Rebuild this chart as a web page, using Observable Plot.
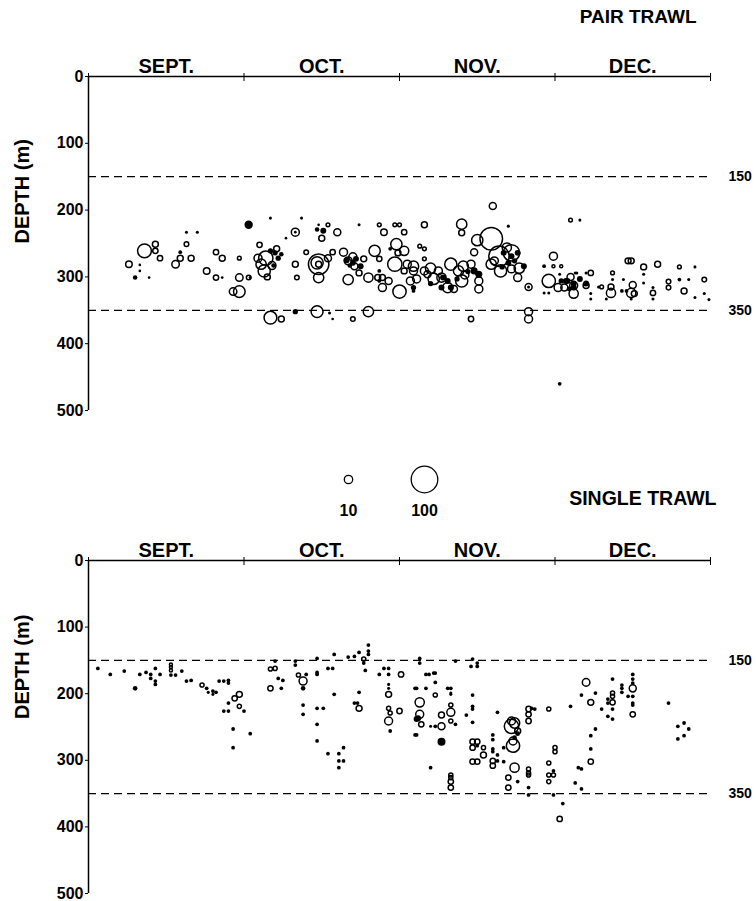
<!DOCTYPE html>
<html><head><meta charset="utf-8">
<script src="https://cdn.jsdelivr.net/npm/d3@7"></script>
<script src="https://cdn.jsdelivr.net/npm/@observablehq/plot@0.6"></script>
<style>
body{margin:0;background:#fff;}
#wrap{position:relative;width:756px;height:901px;background:#fff;overflow:hidden}
#wrap > svg{position:absolute;left:0}
</style></head><body><div id="wrap"></div>
<script>
// x = months since 1 September (0 = 1 Sept, 4 = 31 Dec); depth in m; n = catch (circle area)
const monthLabels = ["SEPT.", "OCT.", "NOV.", "DEC."];
const monthMid = [0.5, 1.5, 2.5, 3.5];
const monthEdges = [0, 1, 2, 3, 4];
const depthTicks = [0, 100, 200, 300, 400, 500];
const guideDepths = [150, 350];
const legendValues = [10, 100];
const legendLabels = ["10", "100"];
const yTitle = "DEPTH (m)";

// PAIR TRAWL — open circles [t, depth, n]
const pairOpen = [
  [0.26,281,6],[0.36,261,27],[0.43,251,5],[0.43,261,4],[0.46,272,4],[0.63,251,3],[0.59,272,5],[0.56,281,8],
  [0.66,272,5],[0.76,291,6],[0.82,263,4],[0.86,272,5],[0.82,301,4],[0.97,272,2],[0.97,301,8],[1.03,301,3],
  [0.97,322,19],[0.93,322,8],
  [1.33,233,9],[1.54,222,2],[1.60,233,7],[1.50,242,5],[1.87,222,2],[1.90,233,6],[1.97,222,2],[2.00,222,2],
  [2.03,233,4],[1.10,252,4],[1.14,272,29],[1.13,291,21],[1.09,272,9],[1.11,281,15],[1.33,281,5],[1.34,301,3],
  [1.40,263,3],[1.48,281,59],[1.47,279,21],[1.48,281,5],[1.48,301,15],[1.54,272,7],[1.57,263,4],[1.64,263,9],
  [1.67,276,9],[1.71,284,7],[1.67,304,15],[1.77,273,5],[1.74,294,5],[1.84,261,18],[1.80,301,12],[1.86,301,5],
  [1.89,301,5],[1.87,273,4],[1.98,251,18],[2.03,261,12],[1.97,281,29],[1.99,264,5],[1.89,316,9],[2.00,322,25],
  [1.93,306,7],[2.07,306,9],[2.05,281,9],[2.09,291,9],[2.03,291,5],
  [1.18,283,9],[1.21,258,5],[1.15,300,5],[1.70,270,9],
  [1.17,361,23],[1.24,363,5],[1.47,352,20],[1.70,363,3],[1.80,352,15],
  [2.60,194,7],[2.16,222,5],[2.40,221,15],[2.40,234,5],[3.10,215,2],[2.99,269,9],[2.99,284,1.3],[3.04,284,1.3],
  [2.59,243,72],[2.50,245,18],[2.48,263,7],[2.13,254,2],[2.16,258,2],[2.16,273,2],[2.64,269,59],[2.72,264,38],
  [2.77,287,15],[2.59,281,15],[2.65,291,21],[2.72,288,9],[2.76,301,9],[2.61,276,9],[2.83,315,7],[2.69,256,12],
  [2.09,284,15],[2.11,303,9],[2.16,291,9],[2.20,287,15],[2.22,303,18],[2.25,291,9],[2.33,281,21],[2.38,291,15],
  [2.40,306,21],[2.41,284,15],[2.35,318,7],[2.46,281,9],[2.51,306,9],[2.51,318,9],[2.31,316,15],
  [2.27,301,12],[2.42,297,9],[2.18,296,7],
  [2.96,306,25],[3.02,316,9],[3.06,316,7],[3.12,325,12],[3.10,300,7],
  [2.46,363,4],[2.83,352,9],[2.83,363,9],
  [3.12,313,9],[3.20,313,5],[3.23,294,4],[3.30,315,2],[3.36,324,12],[3.36,315,5],[3.37,294,2],[3.50,312,7],
  [3.49,324,12],[3.51,325,5],[3.47,276,5],[3.49,276,5],[3.57,285,5],[3.66,281,5],[3.63,324,4],[3.73,307,3],
  [3.73,316,3],[3.80,285,2],[3.83,321,5],[3.96,304,3]
];
// PAIR TRAWL — filled dots [t, depth, n]
const pairFilled = [
  [0.30,301,3],[0.33,282,1],[0.33,291,1],[0.39,301,1],[0.63,233,1.3],[0.70,233,1.3],[0.59,263,2],[0.86,301,1],
  [1.03,222,10],[1.17,212,1.3],[1.37,212,1.3],[1.33,233,1],[1.48,222,1],[1.51,231,5],[1.47,229,3],[1.27,242,1],
  [1.74,222,1.3],[1.17,261,4],[1.20,264,4],[1.22,272,4],[1.04,301,1.3],[1.66,275,5],[1.70,279,5],[1.72,273,5],
  [1.75,284,5],[1.87,291,2],[1.94,258,2],[1.87,306,2],[2.09,321,2],[1.33,352,4],[1.55,354,1.3],[1.57,363,1],
  [1.19,283,3],[1.24,266,3],[1.68,283,3],
  [2.70,224,1.3],[3.16,215,1.3],[2.93,284,2],[2.67,264,5],[2.72,269,5],[2.76,264,5],[2.70,279,5],[2.80,284,5],
  [2.09,316,4],[2.20,310,4],[2.28,301,5],[2.31,306,5],[2.33,316,5],[2.27,316,5],[2.48,291,7],[2.51,296,7],
  [2.37,303,4],[2.44,292,4],[2.74,276,4],[2.66,285,4],
  [2.83,315,1.3],[3.08,306,5],[3.12,316,5],[2.93,324,1.3],[2.96,324,1.3],[3.03,296,1.3],[3.13,294,1.3],
  [3.03,460,2],[3.09,318,3],
  [3.04,306,4],[3.07,306,5],[3.12,310,5],[3.16,303,5],[3.20,310,5],[3.14,294,1.3],[3.20,294,1.3],[3.23,325,1.3],
  [3.23,333,1.3],[3.28,315,1.3],[3.37,304,1.3],[3.33,333,1.3],[3.44,304,1.3],[3.43,321,2],[3.46,321,2],
  [3.49,333,1.3],[3.57,296,1.3],[3.57,309,1.3],[3.63,316,1.3],[3.63,333,1.3],[3.80,304,2],[3.86,304,1.3],
  [3.90,285,1.3],[3.96,325,1.3],[3.99,334,1.3],[3.90,331,1.3]
];

// SINGLE TRAWL — open circles [t, depth, n]
const singleOpen = [
  [0.53,156,1.3],[0.53,160,1.3],[0.53,165,1.3],[0.73,187,2.4],[0.94,207,4],[0.97,201,5],[0.97,219,2.4],
  [1.17,163,2.4],[1.20,162,2.4],[1.17,192,4],[1.35,172,2.4],[1.38,181,9],[1.77,148,2.4],[1.74,222,5],
  [2.01,171,4],[1.93,201,5],[1.93,222,2.4],[1.94,229,2.4],[1.93,241,9],[2.00,226,4],
  [2.23,202,2.4],[2.13,213,12],[2.13,231,9],[2.14,246,4],[2.33,217,2.4],[2.33,228,9],[2.27,232,5],[2.27,249,7],
  [2.33,241,2.4],[2.47,272,4],[2.50,272,4],[2.47,281,4],[2.54,281,2.4],[2.54,292,5],[2.47,302,4],[2.50,302,4],
  [2.60,301,4],[2.60,308,4],[2.33,322,2.4],[2.33,326,2.4],[2.33,332,4],[2.33,341,4],
  [2.72,249,29],[2.74,244,15],[2.73,278,25],[2.73,271,9],[2.76,256,5],[2.72,241,9],[2.74,311,12],[2.70,326,4],
  [2.70,341,4],[2.83,223,4],[2.83,231,4],[2.83,241,4],[2.96,223,2.4],[3.00,281,2.4],[3.00,287,2.4],[2.96,304,2.4],
  [2.83,313,2.4],[2.83,319,2.4],[2.83,322,2.4],[2.96,322,2.4],[2.99,322,2.4],[2.96,332,2.4],[3.03,388,4],
  [3.20,183,8],[3.23,213,5],[3.37,199,2.4],[3.37,204,2.4],[3.37,213,4],[3.50,192,7],[3.50,231,4],[3.23,302,4]
];
// SINGLE TRAWL — filled dots [t, depth, n]
const singleFilled = [
  [0.06,162,2],[0.14,171,2],[0.23,166,2],[0.30,192,3],[0.33,171,2],[0.37,168,2],[0.40,171,2],[0.40,177,2],
  [0.43,162,2],[0.43,181,2],[0.43,186,2],[0.46,171,2],[0.53,172,2],[0.56,172,2],[0.60,166,2],[0.63,181,2],
  [0.66,180,2],[0.76,192,2],[0.77,198,1.3],[0.80,196,2],[0.82,198,2],[0.80,201,1.3],[0.84,181,2],[0.87,181,2],
  [0.90,180,2],[0.90,184,2],[0.90,214,2],[0.87,226,2],[0.90,226,2],[1.00,226,2],[0.93,253,2],[0.93,281,2],
  [1.04,260,2],
  [1.20,151,2],[1.22,177,2],[1.25,180,2],[1.24,192,2],[1.33,151,2],[1.33,157,2],[1.38,192,3],[1.40,171,2],
  [1.38,217,2],[1.38,231,2],[1.47,147,2],[1.47,168,2],[1.47,171,2],[1.47,222,2],[1.51,222,2],[1.47,246,2],
  [1.47,271,2],[1.54,162,2],[1.57,162,2],[1.58,141,2],[1.58,201,2],[1.54,290,2],[1.61,290,2],[1.64,281,2],
  [1.61,301,2],[1.64,301,2],[1.61,311,2],[1.67,145,2],[1.71,144,2],[1.74,138,2],[1.80,136,2],[1.80,127,2],
  [1.80,141,2],[1.77,154,2],[1.78,165,2],[1.74,198,2],[1.71,214,2],[1.73,214,2],[1.87,171,2],[1.90,162,2],
  [1.93,162,2],[1.93,171,2],[1.93,186,1.3],[1.93,192,1.3],[1.94,256,2],[2.10,192,2],[2.10,262,2],[2.12,237,5],
  [2.13,147,2],[2.13,154,2],[2.36,151,2],[2.47,148,2],[2.50,154,2],[2.46,159,2],[2.50,159,2],[2.17,171,2],
  [2.19,171,2],[2.22,169,2],[2.23,169,2],[2.23,183,2],[2.11,192,2],[2.17,192,2],[2.31,192,2],[2.33,192,2],
  [2.33,199,1.3],[2.33,201,1.3],[2.11,238,5],[2.11,262,2],[2.20,249,1.3],[2.23,249,2],[2.36,246,2],[2.27,272,9],
  [2.47,202,2],[2.47,219,2],[2.47,223,2],[2.43,232,2],[2.47,243,2],[2.63,228,2],[2.50,278,2],[2.60,262,2],
  [2.60,269,2],[2.60,283,2],[2.60,287,2],[2.67,281,2],[2.63,292,2],[2.20,311,2],[2.76,260,3],[2.74,266,3],
  [2.63,301,2],[2.67,302,2],[2.76,332,2],[2.85,222,2],[2.87,223,2],[3.10,219,2],[2.99,316,2],[2.83,341,2],
  [2.83,352,2],[2.99,352,2],[3.15,311,2],[3.13,334,2],[3.05,365,2],
  [3.17,202,2],[3.26,199,2],[3.37,178,2],[3.34,208,2],[3.34,214,2],[3.30,223,2],[3.37,223,2],[3.34,234,2],
  [3.37,238,2],[3.43,187,2],[3.43,192,2],[3.43,198,2],[3.47,204,2],[3.50,171,2],[3.50,178,2],[3.50,184,2],
  [3.50,204,2],[3.50,214,2],[3.50,217,2],[3.26,253,2],[3.23,263,2],[3.23,283,2],[3.17,313,2],[3.17,343,2],
  [3.73,214,2],[3.79,249,2],[3.83,244,2],[3.86,253,2],[3.79,268,2],[3.83,263,2]
];

const FONT = '"Liberation Sans", Arial, Helvetica, sans-serif';
const toRows = a => a.map(([t, depth, n]) => ({t, depth, n}));
const rScale = {domain: [0, 100], range: [0, 13.3]};

function panel(openData, filledData, o) {
  return Plot.plot({
    width: 756, height: o.height, marginTop: o.marginTop, marginBottom: o.marginBottom,
    marginLeft: 88, marginRight: 46,
    style: {fontFamily: FONT, background: "white", color: "black", overflow: "visible"},
    x: {domain: [0, 4]},
    y: {domain: [0, 500], reverse: true},
    r: rScale,
    marks: [
      Plot.ruleY(guideDepths, {stroke: "black", strokeWidth: 1.3, strokeDasharray: "8,5"}),
      Plot.text(guideDepths, {x: () => 4, y: d => d, text: d => String(d), dx: 18, textAnchor: "start", fontSize: 14, fontWeight: "bold"}),
      Plot.axisX({anchor: "top", ticks: monthMid, tickSize: 0, tickPadding: 4, tickFormat: (d, i) => monthLabels[i], fontSize: 20, fontWeight: "bold", label: null}),
      Plot.axisX({anchor: "top", ticks: monthEdges, tickSize: 8, dy: 4, tickFormat: () => "", label: null}),
      Plot.axisY({anchor: "left", ticks: depthTicks, tickSize: 3, tickPadding: 2, fontSize: 16, fontWeight: "bold", label: null}),
      Plot.ruleY([0], {stroke: "black", strokeWidth: 1.5}),
      Plot.ruleX([0], {stroke: "black", strokeWidth: 1.5}),
      Plot.text([yTitle], {frameAnchor: "left", rotate: -90, dx: -66, dy: o.labelDy, fontSize: 20, fontWeight: "bold"}),
      Plot.dot(toRows(openData), {x: "t", y: "depth", r: "n", stroke: "black", strokeWidth: 1.5, fill: "none"}),
      Plot.dot(toRows(filledData), {x: "t", y: "depth", r: "n", fill: "black", stroke: "none"}),
      ...(o.title ? [Plot.text([o.title], {frameAnchor: "top-right", dx: -14, dy: -67, textAnchor: "end", fontSize: 19, fontWeight: "bold"})] : [])
    ]
  });
}

const wrap = document.getElementById("wrap");

const pairChart = panel(pairOpen, pairFilled, {height: 440, marginTop: 76, marginBottom: 30, labelDy: 0, title: "PAIR TRAWL"});
pairChart.style.top = "0px";
wrap.appendChild(pairChart);

const legendChart = Plot.plot({
  width: 756, height: 80, margin: 0,
  style: {fontFamily: FONT, background: "transparent", color: "black", overflow: "visible"},
  x: {type: "point", domain: legendLabels, range: [348, 424], padding: 0, axis: null},
  r: rScale,
  marks: [
    Plot.dot(legendValues, {x: (d, i) => legendLabels[i], r: d => d, stroke: "black", strokeWidth: 1.3, fill: "none", dy: -1}),
    Plot.text(legendValues, {x: (d, i) => legendLabels[i], text: (d, i) => legendLabels[i], dy: 30, fontSize: 16, fontWeight: "bold"}),
    Plot.text(["SINGLE TRAWL"], {frameAnchor: "right", dx: -40, dy: 18, textAnchor: "end", fontSize: 19.5, fontWeight: "bold"})
  ]
});
legendChart.style.top = "440px";
wrap.appendChild(legendChart);

const singleChart = panel(singleOpen, singleFilled, {height: 381, marginTop: 40, marginBottom: 8, labelDy: -8});
singleChart.style.top = "520px";
wrap.appendChild(singleChart);
</script></body></html>
